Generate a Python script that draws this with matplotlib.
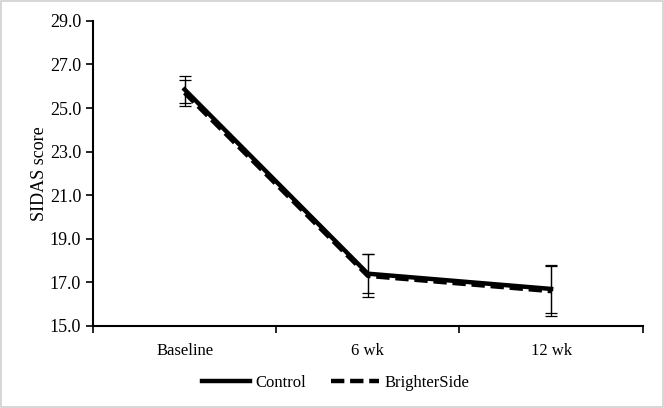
import numpy as np
import matplotlib.pyplot as plt
from matplotlib.patches import Rectangle

# data
timepoints = ['Baseline', '6 wk', '12 wk']
control_mean = [25.85, 17.4, 16.7]
control_err = [0.6, 0.88, 1.1]
brighter_mean = [25.7, 17.3, 16.6]
brighter_err = [0.6, 0.98, 1.15]


def main():
    plt.rcParams['font.family'] = ['Liberation Serif', 'DejaVu Serif']
    plt.rcParams['font.size'] = 13

    fig = plt.figure(figsize=(6.64, 4.08), dpi=100)
    ax = fig.add_axes([0.140, 0.201, 0.828, 0.748])

    x = np.arange(len(timepoints))

    ax.errorbar(x, control_mean, yerr=control_err, color='black', linewidth=3.2,
                ecolor='black', elinewidth=0.9, capsize=4, capthick=0.9,
                label='Control', zorder=3)
    ax.errorbar(x, brighter_mean, yerr=brighter_err, color='black', linewidth=3.2,
                linestyle=(0, (3.0, 1.3)), dash_capstyle='butt',
                ecolor='black', elinewidth=0.9, capsize=4, capthick=0.9,
                label='BrighterSide', zorder=3)

    ax.set_xlim(-0.5, len(timepoints) - 0.5)
    ax.set_ylim(15, 29)
    ax.set_yticks(np.arange(15, 29.1, 2))
    ax.set_yticklabels([f'{v:.1f}' for v in np.arange(15, 29.1, 2)])

    # category labels centered, ticks at boundaries like Excel
    ax.set_xticks(x)
    ax.set_xticklabels(timepoints, fontsize=12)
    ax.tick_params(axis='x', which='major', length=0, pad=12)
    ax.set_xticks(np.arange(-0.5, len(timepoints)), minor=True)
    ax.tick_params(axis='x', which='minor', length=5, width=1.2, direction='out')
    ax.tick_params(axis='y', length=5, width=1.2, direction='out')

    for side in ['top', 'right']:
        ax.spines[side].set_visible(False)
    for side in ['left', 'bottom']:
        ax.spines[side].set_linewidth(1.5)

    ax.set_ylabel('SIDAS score', labelpad=1)

    handles, labels = ax.get_legend_handles_labels()
    handles = [h[0] for h in handles]
    fig.legend(handles, labels, loc='center', bbox_to_anchor=(0.505, 0.062),
               ncol=2, frameon=False, handlelength=2.9, handletextpad=0.3,
               columnspacing=1.5, fontsize=12)

    fig.patches.append(Rectangle((0.002, 0.002), 0.996, 0.996, transform=fig.transFigure,
                                 fill=False, edgecolor='#d0d0d0', linewidth=1.2))

    fig.savefig('out.png', dpi=100)


if __name__ == "__main__":
    main()
